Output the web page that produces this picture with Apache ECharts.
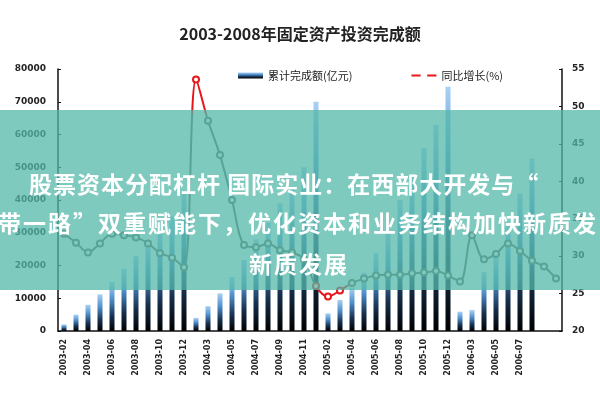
<!DOCTYPE html>
<html><head><meta charset="utf-8">
<script src="https://cdn.jsdelivr.net/npm/echarts/dist/echarts.min.js"></script>
<style>
html,body{margin:0;padding:0;background:#fff;}
#wrap{position:relative;width:600px;height:400px;overflow:hidden;}
#chart{width:600px;height:400px;}
#banner{position:absolute;left:0;top:110px;width:600px;height:180px;background:rgba(84,184,170,0.75);overflow:hidden;}
.t{position:absolute;white-space:nowrap;color:#fff;font-family:"Noto Sans CJK SC";font-weight:bold;font-size:23px;line-height:23px;}
</style></head><body>
<div id="wrap"><div id="chart"></div>
<div id="banner">
<div class="t" style="left:29px;top:62px;letter-spacing:1px;">股票资本分配杠杆 国际实业：在西部大开发与“</div>
<div class="t" style="left:-27px;top:101px;letter-spacing:2px;">一带一路”双重赋能下，优化资本和业务结构加快新质发</div>
<div class="t" style="left:249px;top:142px;letter-spacing:2px;">新质发展</div>
</div></div>
<script>
const categories = [
  '2003-02','2003-03','2003-04','2003-05','2003-06','2003-07','2003-08','2003-09','2003-10','2003-11','2003-12',
  '2004-02','2004-03','2004-04','2004-05','2004-06','2004-07','2004-08','2004-09','2004-10','2004-11','2004-12',
  '2005-02','2005-03','2005-04','2005-05','2005-06','2005-07','2005-08','2005-09','2005-10','2005-11','2005-12',
  '2006-02','2006-03','2006-04','2006-05','2006-06','2006-07','2006-08','2006-09','2006-10'
];
const investment = [
  2000, 5000, 8000, 11200, 15000, 19000, 23000, 27000, 31000, 35000, 42500,
  4000, 7600, 11500, 16500, 21700, 28000, 33000, 39000, 43600, 50000, 70000,
  5400, 9500, 13300, 17800, 23800, 30000, 40000, 47100, 55800, 62900, 74600,
  5900, 6400, 18000, 23000, 32000, 42000, 52700, null, null
];
const growth = [
  33.0, 31.8, 30.5, 31.7, 33.0, 32.8, 32.5, 31.7, 30.4, 29.8, 28.5,
  53.6, 48.1, 43.5, 37.5, 31.5, 31.2, 31.7, 30.8, 30.5, 29.6, 26.0,
  24.6, 25.4, 26.4, 27.0, 27.4, 27.5, 27.5, 27.7, 27.8, 28.0, 27.4,
  26.6, 32.8, 29.6, 30.3, 31.7, 30.7, 29.4, 28.6, 27.0
];
const leftTicks = [0, 10000, 20000, 30000, 40000, 50000, 60000, 70000, 80000];
const rightTicks = [20, 25, 30, 35, 40, 45, 50, 55];
const titleText = '2003-2008年固定资产投资完成额';
const barName = '累计完成额(亿元)';
const lineName = '同比增长(%)';

const chart = echarts.init(document.getElementById('chart'));
const barGrad = new echarts.graphic.LinearGradient(0, 0, 0, 1, [
  {offset: 0, color: '#a9d1f5'},
  {offset: 0.35, color: '#4f8fcb'},
  {offset: 0.7, color: '#17304f'},
  {offset: 1, color: '#000000'}
]);
const lbl = {fontFamily: 'DejaVu Sans', fontWeight: 'bold', fontSize: 9, color: '#222'};
chart.setOption({
  animation: false,
  title: {text: titleText, left: 'center', top: 21,
    textStyle: {fontFamily: 'Noto Sans CJK SC', fontWeight: 'bold', fontSize: 16, color: '#222'}},
  legend: {
    left: 233, top: 65, itemGap: 58, itemWidth: 25, itemHeight: 6,
    textStyle: {fontFamily: 'Noto Sans CJK SC', fontSize: 11, color: '#222'},
    data: [
      {name: barName, icon: 'rect'},
      {name: lineName, itemStyle: {color: '#fff', borderColor: '#e8161b'}, lineStyle: {color: '#e8161b', width: 2}}
    ]
  },
  grid: {left: 58, right: 38, top: 69, bottom: 69},
  visualMap: {
    show: false, type: 'piecewise', seriesIndex: 1, dimension: 1,
    pieces: [
      {lt: 26.1, color: '#e8161b'},
      {gte: 26.1, lte: 49, color: '#666666'},
      {gt: 49, color: '#e8161b'}
    ]
  },
  xAxis: {
    type: 'category', data: categories,
    axisLine: {lineStyle: {color: '#111', width: 1.5}},
    axisTick: {show: false},
    axisLabel: Object.assign({}, lbl, {fontSize: 8, rotate: 90, margin: 8,
      interval: function (i) { return i % 2 === 0 && i <= 38; }})
  },
  yAxis: [
    {type: 'value', min: leftTicks[0], max: leftTicks[leftTicks.length - 1], interval: leftTicks[1] - leftTicks[0],
      splitLine: {show: false},
      axisLine: {show: true, lineStyle: {color: '#111', width: 1.5}},
      axisTick: {show: true, inside: true, length: 3, lineStyle: {color: '#111'}},
      axisLabel: Object.assign({}, lbl, {margin: 12, formatter: function (v) { return String(v); }})},
    {type: 'value', min: rightTicks[0], max: rightTicks[rightTicks.length - 1], interval: rightTicks[1] - rightTicks[0],
      splitLine: {show: false},
      axisLine: {show: true, lineStyle: {color: '#111', width: 1.5}},
      axisTick: {show: true, inside: true, length: 3, lineStyle: {color: '#111'}},
      axisLabel: Object.assign({}, lbl, {margin: 10})}
  ],
  series: [
    {name: barName, type: 'bar', data: investment, barWidth: 5, itemStyle: {color: barGrad}},
    {name: lineName, type: 'line', yAxisIndex: 1, data: growth, smooth: 0.35,
      symbol: 'emptyCircle', symbolSize: 6,
      lineStyle: {width: 2},
      itemStyle: {borderWidth: 1.2}}
  ]
});
</script>
</body></html>
